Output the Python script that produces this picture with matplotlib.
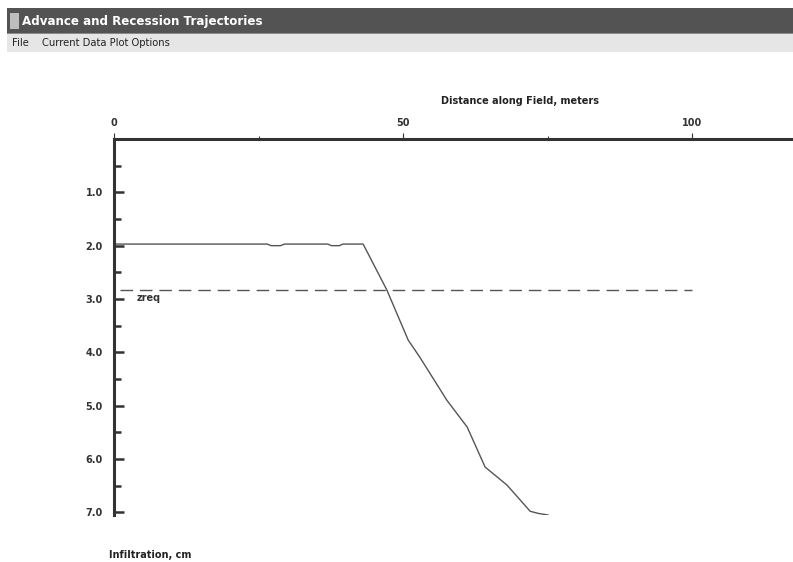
import matplotlib
matplotlib.use("Agg")
import matplotlib.pyplot as plt
from matplotlib.patches import Rectangle

# infiltration profile along the field
distance = [0, 26.5, 27.2, 28.8, 29.5, 37.0, 37.6, 39.0, 39.6, 43.1,
            47.2, 50.9, 52.9, 57.6, 61.1, 64.2, 68.0, 72.0, 73.4, 75.1]
infiltration = [1.97, 1.97, 2.0, 2.0, 1.97, 1.97, 2.0, 2.0, 1.97, 1.97,
                2.83, 3.77, 4.09, 4.90, 5.40, 6.15, 6.49, 6.98, 7.02, 7.05]
zreq = 2.83
zreq_span = [1, 100]
x_major = [0, 50, 100]
x_minor = [25, 75]
y_major = [1.0, 2.0, 3.0, 4.0, 5.0, 6.0, 7.0]
y_minor = [0.5, 1.5, 2.5, 3.5, 4.5, 5.5, 6.5]

W, H = 793, 562
fig = plt.figure(figsize=(W / 100, H / 100), dpi=100)
fig.patch.set_facecolor("white")

# window chrome: title bar and menu bar
fig.add_artist(Rectangle((7 / W, 1 - 33 / H), 1, 25 / H, transform=fig.transFigure,
                         facecolor="#535353", edgecolor="none"))
fig.add_artist(Rectangle((7 / W, 1 - 34 / H), 1, 1.5 / H, transform=fig.transFigure,
                         facecolor="#8a8a8a", edgecolor="none"))
fig.add_artist(Rectangle((7 / W, 1 - 52 / H), 1, 18 / H, transform=fig.transFigure,
                         facecolor="#e6e6e6", edgecolor="none"))
fig.add_artist(Rectangle((10 / W, 1 - 29 / H), 9 / W, 16 / H, transform=fig.transFigure,
                         facecolor="#bdbdbd", edgecolor="none"))
fig.text(22 / W, 1 - 21 / H, "Advance and Recession Trajectories", color="white",
         fontsize=8.6, fontweight="bold", va="center", ha="left")
fig.text(12 / W, 1 - 43 / H, "File", fontsize=7.2, va="center", ha="left", color="#222222")
fig.text(42 / W, 1 - 43 / H, "Current Data Plot Options", fontsize=7.2, va="center",
         ha="left", color="#222222")

# plot area in pixels
left, top, bottom = 114, 139, 515
x_max = (W - left) / 5.78
ax = fig.add_axes([left / W, 1 - bottom / H, (W - left) / W, (bottom - top) / H])
ax.set_xlim(0, x_max)
ax.set_ylim(7.05, 0)

ax.plot(distance, infiltration, color="#555555", lw=1.0)
ax.plot(zreq_span, [zreq, zreq], color="#555555", lw=1.0, dashes=(9, 5))
ax.text(4.0, zreq + 0.15, "zreq", fontsize=7, fontweight="bold", color="#333333",
        va="center", ha="left")

for s in ["right", "bottom"]:
    ax.spines[s].set_visible(False)
for s in ["top", "left"]:
    ax.spines[s].set_linewidth(2.2)
    ax.spines[s].set_color("#333333")

ax.xaxis.tick_top()
ax.set_xticks(x_major)
ax.set_xticks(x_minor, minor=True)
ax.set_xticklabels(["0", "50", "100"], fontsize=7, fontweight="bold")
ax.tick_params(axis="x", which="major", direction="out", length=4, width=0.8,
               colors="#333333", pad=4)
ax.tick_params(axis="x", which="minor", direction="out", length=2, width=0.8,
               colors="#333333")

ax.set_yticks(y_major)
ax.set_yticks(y_minor, minor=True)
ax.set_yticklabels([f"{v:.1f}" for v in y_major], fontsize=7, fontweight="bold")
ax.tick_params(axis="y", which="major", direction="in", length=7, width=1.8,
               colors="#333333", pad=8)
ax.tick_params(axis="y", which="minor", direction="in", length=5, width=1.8,
               colors="#333333")

fig.text(520 / W, 1 - 101 / H, "Distance along Field, meters", fontsize=7,
         fontweight="bold", ha="center", va="center", color="#222222")
fig.text(150 / W, 1 - 555 / H, "Infiltration, cm", fontsize=7,
         fontweight="bold", ha="center", va="center", color="#222222")

fig.savefig("out.png", dpi=100)
